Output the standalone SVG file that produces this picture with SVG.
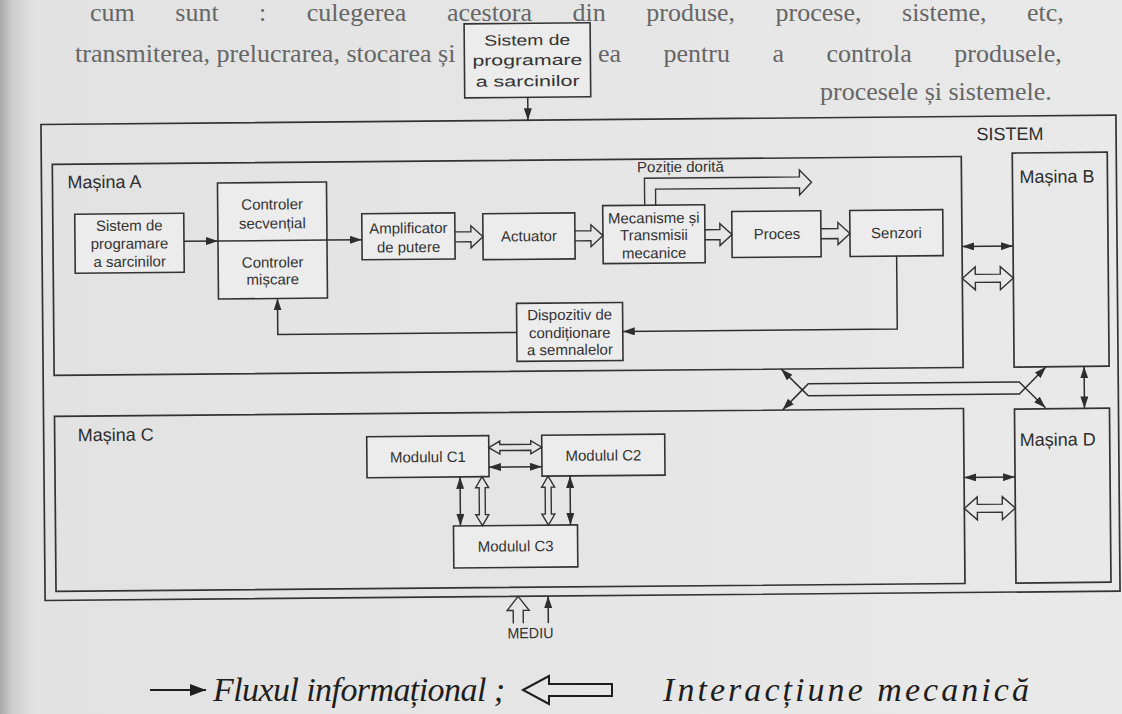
<svg xmlns="http://www.w3.org/2000/svg" width="1122" height="714" viewBox="0 0 1122 714">
<defs>
<linearGradient id="page" x1="0" y1="0" x2="1" y2="0">
<stop offset="0" stop-color="#a9a9a9"/>
<stop offset="0.011" stop-color="#cdcdcd"/>
<stop offset="0.03" stop-color="#e2e2e2"/>
<stop offset="1" stop-color="#e9e9e9"/>
</linearGradient>
<marker id="ah" viewBox="0 0 12 8" refX="12" refY="4" markerWidth="12" markerHeight="8" markerUnits="userSpaceOnUse" orient="auto-start-reverse">
<path d="M0,0 L12,4 L0,8 Z" fill="#2e2e2e"/>
</marker>
<marker id="ahBig" viewBox="0 0 16 12" refX="16" refY="6" markerWidth="16" markerHeight="12" markerUnits="userSpaceOnUse" orient="auto">
<path d="M0,0 L16,6 L0,12 Z" fill="#1e1e1e"/>
</marker>
<style>
.box{fill:#ececec;stroke:#333;stroke-width:1.6}
.frame{fill:none;stroke:#333;stroke-width:1.7}
.t{font-family:"Liberation Sans",Arial,sans-serif;font-size:15px;fill:#333;text-anchor:middle}
.lbl{font-family:"Liberation Sans",Arial,sans-serif;font-size:18px;fill:#2e2e2e}
.info{fill:none;stroke:#2e2e2e;stroke-width:1.5}
.mech{fill:none;stroke:#333;stroke-width:1.4;stroke-linejoin:miter}
.bg{font-family:"Liberation Serif","Times New Roman",serif;font-size:26px;fill:#666}
.leg{font-family:"Liberation Serif","Times New Roman",serif;font-style:italic;font-size:34px;fill:#1e1e1e}
</style>
</defs>
<rect x="0" y="0" width="1122" height="714" fill="url(#page)"/>

<g id="page-text">
<text class="bg" x="90" y="21" font-size="25" word-spacing="34">cum sunt : culegerea acestora din produse, procese, sisteme, etc,</text>
<text class="bg" x="75" y="62">transmiterea, prelucrarea, stocarea și</text>
<text class="bg" x="598" y="62" font-size="28" word-spacing="36">ea pentru a controla produsele,</text>
<text class="bg" x="820" y="100" font-size="27">procesele și sistemele.</text>
</g>

<g transform="rotate(-0.5 561 357)">
<g id="sistem">
<rect class="frame" x="43" y="120" width="1075" height="476"/>
<text class="lbl" x="1012" y="144" text-anchor="middle">SISTEM</text>
</g>

<g id="top-scheduler">
<rect class="box" x="467" y="23" width="126" height="74"/>
<text class="t" x="530" y="45" font-size="19" textLength="86" lengthAdjust="spacingAndGlyphs">Sistem de</text>
<text class="t" x="530" y="65" font-size="19" textLength="110" lengthAdjust="spacingAndGlyphs">programare</text>
<text class="t" x="530" y="86" font-size="19" textLength="104" lengthAdjust="spacingAndGlyphs">a sarcinilor</text>
</g>

<g id="masina-a">
<rect class="frame" x="54" y="160" width="909" height="211"/>
<text class="lbl" x="69" y="184">Mașina A</text>
</g>
<g id="masina-b">
<rect class="frame" x="1014" y="157" width="95" height="214"/>
<text class="lbl" x="1021" y="187">Mașina B</text>
</g>
<g id="masina-c">
<rect class="frame" x="54" y="412" width="909" height="175"/>
<text class="lbl" x="77" y="437">Mașina C</text>
</g>
<g id="masina-d">
<rect class="frame" x="1014" y="413" width="95" height="174"/>
<text class="lbl" x="1019" y="450">Mașina D</text>
</g>

<g id="sistem-programare-a">
<rect class="box" x="76" y="210" width="109" height="59"/>
<text class="t" x="130.5" y="227">Sistem de</text>
<text class="t" x="130.5" y="245">programare</text>
<text class="t" x="130.5" y="263">a sarcinilor</text>
</g>
<g id="controler">
<rect class="box" x="219" y="180" width="109" height="116"/>
<line x1="219" y1="238" x2="328" y2="238" stroke="#333" stroke-width="1.5"/>
<text class="t" x="273.5" y="207">Controler</text>
<text class="t" x="273.5" y="226">secvențial</text>
<text class="t" x="273.5" y="265">Controler</text>
<text class="t" x="273.5" y="282">mișcare</text>
</g>
<g id="amplificator">
<rect class="box" x="363" y="212" width="93" height="46"/>
<text class="t" x="409.5" y="232">Amplificator</text>
<text class="t" x="409.5" y="251">de putere</text>
</g>
<g id="actuator">
<rect class="box" x="484" y="213" width="92" height="46"/>
<text class="t" x="530" y="241">Actuator</text>
</g>
<g id="mecanisme">
<rect class="box" x="604" y="206" width="102" height="58"/>
<text class="t" x="655" y="224">Mecanisme și</text>
<text class="t" x="655" y="241">Transmisii</text>
<text class="t" x="655" y="259">mecanice</text>
</g>
<g id="proces">
<rect class="box" x="733" y="213" width="89" height="46"/>
<text class="t" x="778" y="241">Proces</text>
</g>
<g id="senzori">
<rect class="box" x="851" y="213" width="93" height="46"/>
<text class="t" x="897.5" y="241">Senzori</text>
</g>
<g id="dispozitiv">
<rect class="box" x="517" y="303" width="106" height="58"/>
<text class="t" x="570" y="320">Dispozitiv de</text>
<text class="t" x="570" y="338">condiționare</text>
<text class="t" x="570" y="355">a semnalelor</text>
</g>
<g id="pozitie-label">
<text class="t" x="682" y="173" text-anchor="start">Poziție dorită</text>
</g>

<g id="modul-c1">
<rect class="box" x="366" y="435" width="122" height="41"/>
<text class="t" x="427" y="461">Modulul C1</text>
</g>
<g id="modul-c2">
<rect class="box" x="541" y="435" width="123" height="41"/>
<text class="t" x="602.5" y="461">Modulul C2</text>
</g>
<g id="modul-c3">
<rect class="box" x="452" y="525" width="124" height="42"/>
<text class="t" x="514" y="551">Modulul C3</text>
</g>

<g id="mediu">
<text class="t" x="528" y="638" font-size="14" textLength="46" lengthAdjust="spacingAndGlyphs">MEDIU</text>
</g>

<g id="connectors">
<path class="info" d="M530,97 L530,120" marker-end="url(#ah)"/>
<path class="info" d="M185,238 L219,238" marker-end="url(#ah)"/>
<path class="info" d="M328,238 L363,238" marker-end="url(#ah)"/>
<path class="info" d="M897.5,259 L897.5,332 L623,332" marker-end="url(#ah)"/>
<path class="info" d="M517,332 L278,332 L278,296" marker-end="url(#ah)"/>
<path class="mech" d="M456,231 L472,231 L472,225 L484,236 L472,247 L472,241 L456,241"/>
<path class="mech" d="M576,231 L592,231 L592,225 L604,236 L592,247 L592,241 L576,241"/>
<path class="mech" d="M706,231 L721,231 L721,225 L733,236 L721,247 L721,241 L706,241"/>
<path class="mech" d="M822,231 L839,231 L839,225 L851,236 L839,247 L839,241 L822,241"/>
<path class="mech" d="M646,206 L646,179 L801,179 L801,172 L813,184.5 L801,197 L801,190 L657,190 L657,206"/>
<path class="info" d="M963,250 L1014,250" marker-start="url(#ah)" marker-end="url(#ah)"/>
<path class="mech" d="M963,282 L976,270.5 L976,278 L1001,278 L1001,270.5 L1014,282 L1001,293.5 L1001,286 L976,286 L976,293.5 Z"/>
<path class="info" d="M1084,371 L1084,413" marker-start="url(#ah)" marker-end="url(#ah)"/>
<path class="info" d="M963,481 L1014,481" marker-start="url(#ah)" marker-end="url(#ah)"/>
<path class="mech" d="M963,512 L976,500.5 L976,508 L1001,508 L1001,500.5 L1014,512 L1001,523.5 L1001,516 L976,516 L976,523.5 Z"/>
<path class="info" d="M781,371 L802,392 L808,398 L1019,398 L1025,392 L1046,371" marker-start="url(#ah)" marker-end="url(#ah)"/>
<path class="info" d="M782,412 L802,392 L808,386 L1019,386 L1025,392 L1045,412" marker-start="url(#ah)" marker-end="url(#ah)"/>
<path class="mech" d="M488,447 L499,440.5 L499,444 L530,444 L530,440.5 L541,447 L530,453.5 L530,450 L499,450 L499,453.5 Z"/>
<path class="info" d="M488,466.5 L541,466.5" marker-start="url(#ah)" marker-end="url(#ah)"/>
<path class="info" d="M459,476 L459,525" marker-start="url(#ah)" marker-end="url(#ah)"/>
<path class="mech" d="M481,476 L487.5,487 L484,487 L484,514 L487.5,514 L481,525 L474.5,514 L478,514 L478,487 L474.5,487 Z"/>
<path class="mech" d="M547,476 L553.5,487 L550,487 L550,514 L553.5,514 L547,525 L540.5,514 L544,514 L544,487 L540.5,487 Z"/>
<path class="info" d="M569,476 L569,525" marker-start="url(#ah)" marker-end="url(#ah)"/>
<path class="mech" d="M516,596 L527,610 L521,610 L521,623 M511,623 L511,610 L505,610 L516,596"/>
<path class="info" d="M546,623 L546,596" marker-end="url(#ah)"/>
</g>
</g>

<g id="legend">
<path d="M150,690 L206,690" stroke="#1e1e1e" stroke-width="2" fill="none" marker-end="url(#ahBig)"/>
<text class="leg" x="213" y="701" textLength="292" lengthAdjust="spacing">Fluxul informațional ;</text>
<path d="M523,690 L549,676 L549,684 L612,684 L612,696 L549,696 L549,704 Z" fill="none" stroke="#1e1e1e" stroke-width="2"/>
<text class="leg" x="663" y="701" textLength="366" lengthAdjust="spacing">Interacțiune mecanică</text>
</g>
</svg>
